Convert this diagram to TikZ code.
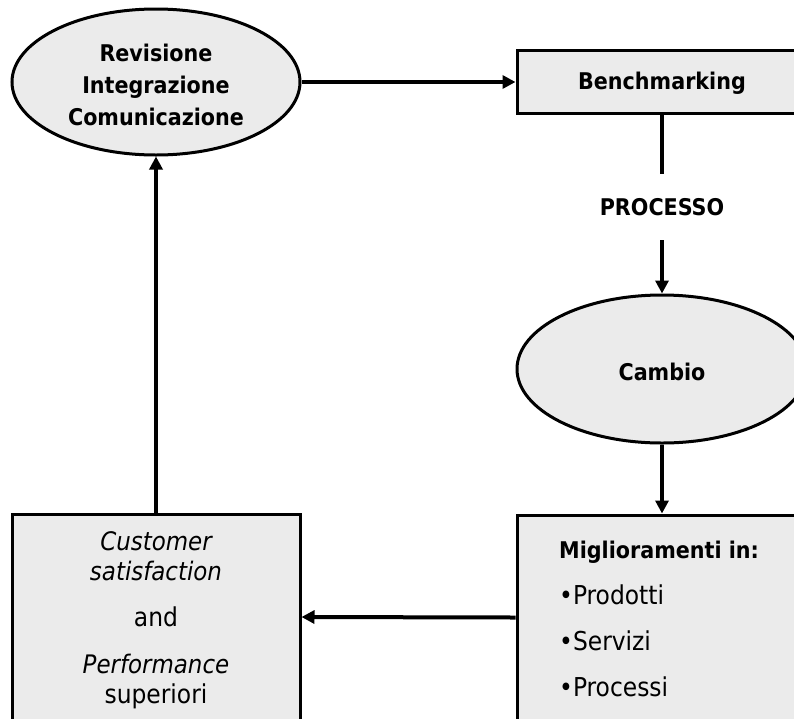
\documentclass[tikz,border=0pt]{standalone}
\usepackage{fontspec}
\setmainfont{DejaVu Sans Condensed}
\usetikzlibrary{shapes.geometric,arrows.meta}
\definecolor{shapefill}{RGB}{235,235,235}
\begin{document}
\begin{tikzpicture}[x=1pt,y=-1pt,
  shape line/.style={draw=black,line width=3pt,fill=shapefill,inner sep=0pt},
  oval/.style={shape line,ellipse},
  box/.style={shape line,rectangle},
  link/.style={line width=4pt,-{Triangle[length=13pt,width=13pt]}},
  plain link/.style={line width=4pt},
  label text/.style={font=\bfseries\fontsize{23}{32}\selectfont,align=center,inner sep=0pt},
  body text/.style={font=\fontsize{26}{30}\selectfont,inner sep=0pt},
  slanted/.style={font=\itshape\fontsize{25.5}{30}\selectfont}
]
\useasboundingbox (0,0) rectangle (794,718);
\clip (0,0) rectangle (794,718);

% shapes of the cycle
\node[oval,minimum width=288pt,minimum height=146pt] (rev) at (156,82) {};
\node[box,minimum width=290pt,minimum height=63pt] (bench) at (662,82) {};
\node[oval,minimum width=290pt,minimum height=148pt] (cambio) at (662,369) {};
\node[box,minimum width=288pt,minimum height=206pt] (cust) at (156,617) {};
\node[box,minimum width=290pt,minimum height=205pt] (mig) at (662,617.5) {};
\node[label text,minimum height=66pt] (proc) at (662,207) {PROCESSO};

% texts inside the shapes
\node[label text] (revtext) at (156,85) {Revisione\\Integrazione\\Comunicazione};
\node[label text] (benchtext) at (662,83) {Benchmarking};
\node[label text] (cambiotext) at (662,372) {Cambio};
\node[body text,align=center] (custtext) at (156,620)
  {{\itshape\fontsize{25.5}{30}\selectfont Customer}\\
   {\itshape\fontsize{25.5}{30}\selectfont satisfaction}\\[16pt]
   and\\[17pt]
   {\itshape\fontsize{25.5}{30}\selectfont Performance}\\
   superiori};
\node[body text,font=\fontsize{26}{46}\selectfont,align=left,anchor=west] (migtext) at (559,619)
  {{\bfseries\fontsize{23}{46}\selectfont Miglioramenti in:}\\•Prodotti\\•Servizi\\•Processi};

% connectors
\draw[link] (rev.east) -- (bench.west);
\draw[plain link] (bench.south) -- (proc.north);
\draw[link] (proc.south) -- (cambio.north);
\draw[link] (cambio.south) -- (mig.north);
\draw[link] (mig.west) -- (cust.east);
\draw[link] (cust.north) -- (rev.south);
\end{tikzpicture}
\end{document}
